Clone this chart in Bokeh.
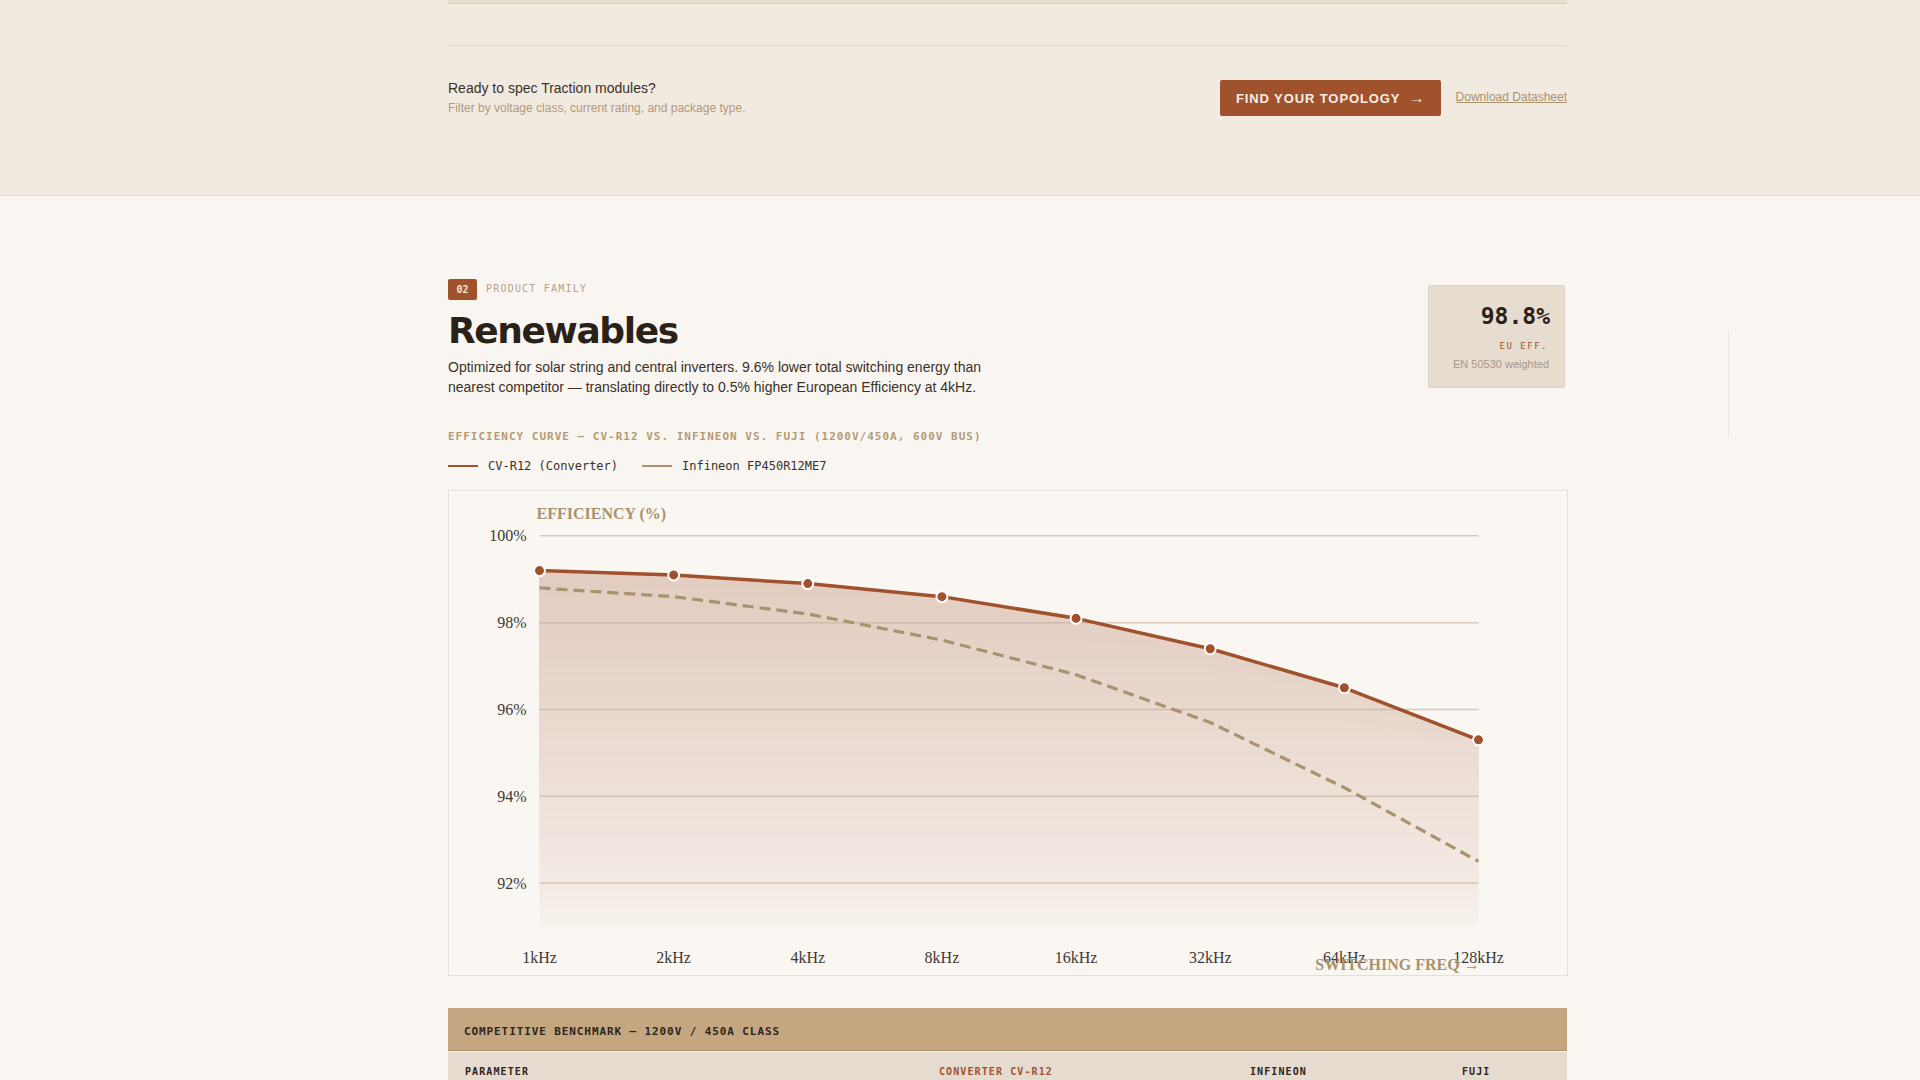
import numpy as np
from bokeh.plotting import figure
from bokeh.layouts import column, row
from bokeh.models import Div, Range1d, FixedTicker, Label
from bokeh.embed import file_html
from bokeh.resources import INLINE

# ---------------- data ----------------
freq_labels = ["1kHz", "2kHz", "4kHz", "8kHz", "16kHz", "32kHz", "64kHz", "128kHz"]
cv_r12 = [99.2, 99.1, 98.9, 98.6, 98.1, 97.4, 96.5, 95.3]
infineon = [98.8, 98.6, 98.2, 97.6, 96.8, 95.7, 94.2, 92.5]
y_ticks = [92, 94, 96, 98, 100]
y_tick_labels = ["92%", "94%", "96%", "98%", "100%"]
baseline = 91

# ---------------- styles ----------------
SIENNA = "#a0522d"
TAN = "#a8926f"
BG = "#f9f6f1"
CHART_BG = "#faf7f3"
BORDER = "#e6dfd5"
SANS = "'Liberation Sans', Arial, sans-serif"
MONO = "'DejaVu Sans Mono', monospace"
HEAD = "'DejaVu Sans', sans-serif"
# gradient stops of the area fill (opacity of sienna over the chart background)
grad_stop_y = [91, 92, 94, 96, 98, 99.2]
grad_stop_a = [0.03, 0.075, 0.135, 0.19, 0.235, 0.26]

def hex_to_rgb(h):
    return tuple(int(h[i:i + 2], 16) for i in (1, 3, 5))

def mix(a):
    c1, c0 = hex_to_rgb(SIENNA), hex_to_rgb(CHART_BG)
    return "#%02x%02x%02x" % tuple(int(round(c0[i] * (1 - a) + c1[i] * a)) for i in range(3))

xs = list(range(len(freq_labels)))
cv_arr = np.array(cv_r12)

p = figure(width=1118, height=484, output_backend="svg", toolbar_location=None,
           x_range=Range1d(-0.0522, 7.0522), y_range=Range1d(91, 100.861),
           min_border_left=83, min_border_right=82, min_border_top=7, min_border_bottom=45,
           background_fill_color=CHART_BG, border_fill_color=CHART_BG,
           outline_line_color=None, margin=0)
p.xgrid.visible = False
p.ygrid.visible = False

# gradient area under CV-R12: nested opaque layers, each from its level up to the line
top_val = cv_arr.max()
n = 40
step = (top_val - baseline) / n
for k in range(n):
    level = baseline + step * k
    a = float(np.interp(level + step / 2, grad_stop_y, grad_stop_a))
    p.varea(x=xs, y1=np.minimum(level, cv_arr), y2=cv_arr, fill_color=mix(a), fill_alpha=1.0)

# grid lines (only across the category span)
p.segment(x0=[xs[0]] * len(y_ticks), x1=[xs[-1]] * len(y_ticks), y0=y_ticks, y1=y_ticks,
          line_color="#b9a896", line_alpha=0.55, line_width=1.5)

# series
p.line(xs, infineon, line_color=TAN, line_width=3.2, line_dash="11 6")
p.line(xs, cv_r12, line_color=SIENNA, line_width=3.5)
p.scatter(xs, cv_r12, size=11, fill_color=SIENNA, line_color="#ffffff", line_width=2)

# axes
for ax in (p.xaxis[0], p.yaxis[0]):
    ax.axis_line_color = None
    ax.major_tick_line_color = None
    ax.minor_tick_line_color = None
    ax.major_tick_out = 0
    ax.major_tick_in = 0
    ax.minor_tick_out = 0
    ax.major_label_text_font = "Liberation Serif"
    ax.major_label_text_font_size = "16px"
    ax.major_label_text_color = "#3d3935"
xax = p.xaxis[0]
xax.ticker = FixedTicker(ticks=xs)
xax.major_label_overrides = {i: lab for i, lab in zip(xs, freq_labels)}
xax.major_label_standoff = 22
# axis title, right-aligned near the last category (padded with no-break spaces)
xax.axis_label = "SWITCHING FREQ \u2192" + "\u00a0" * 44
xax.axis_label_text_font = "Liberation Serif"
xax.axis_label_text_font_style = "bold"
xax.axis_label_text_font_size = "16px"
xax.axis_label_text_color = TAN
xax.axis_label_standoff = -13
xax.axis_label_align = "end"
yax = p.yaxis[0]
yax.ticker = FixedTicker(ticks=y_ticks)
yax.major_label_overrides = {t: lab for t, lab in zip(y_ticks, y_tick_labels)}
yax.major_label_standoff = 6

p.add_layout(Label(x=xs[0], y=y_ticks[-1], x_offset=-3, y_offset=22, text="EFFICIENCY (%)",
                   text_font="Liberation Serif", text_font_style="bold", text_font_size="16px",
                   text_color=TAN, text_align="left", text_baseline="middle"))

# ---------------- page parts ----------------
def box(l, t, w, h, bg, extra=""):
    return f'<div style="position:absolute;left:{l}px;top:{t}px;width:{w}px;height:{h}px;background:{bg};{extra}"></div>'

def txt(l, t, s, css):
    return f'<div style="position:absolute;left:{l}px;top:{t}px;white-space:nowrap;{css}">{s}</div>'

top_html = (
    f'<div style="position:relative;width:1920px;height:491px;background:{BG};overflow:hidden;font-family:{SANS};">'
    + box(0, 0, 1920, 196, "#f1eae0", "border-bottom:1px solid #e4dbce;")
    + box(448, 0, 1119, 4, "#e7ded2", "border-bottom:1px solid #d6cbbd;")
    + box(448, 45, 1119, 1, "#e2d9cc")
    + txt(448, 80, "Ready to spec Traction modules?", "font-size:14px;line-height:16px;color:#3b3029;")
    + txt(448, 101, "Filter by voltage class, current rating, and package type.", "font-size:12px;line-height:14px;color:#b09a7c;")
    + f'<div style="position:absolute;left:1220px;top:80px;width:221px;height:36px;background:{SIENNA};border-radius:2px;'
      f'color:#f7ede3;font-weight:bold;font-size:13px;letter-spacing:0.9px;line-height:36px;text-align:center;white-space:nowrap;">'
      'FIND YOUR TOPOLOGY &nbsp;<b style="font-size:15px;">\u2192</b></div>'
    + '<div style="position:absolute;right:353px;top:90px;font-size:12px;line-height:14px;color:#a8916f;text-decoration:underline;white-space:nowrap;">Download Datasheet</div>'
    # section header
    + f'<div style="position:absolute;left:448px;top:279px;width:29px;height:21px;background:{SIENNA};border-radius:2px;color:#f3e2d3;'
      f'font-family:{MONO};font-weight:bold;font-size:10px;line-height:21px;text-align:center;">02</div>'
    + txt(486, 282, "PRODUCT FAMILY", f"font-family:{MONO};font-size:10px;line-height:14px;letter-spacing:1.2px;color:#b5a28a;")
    + txt(448, 313, "Renewables", f"font-family:{HEAD};font-weight:bold;font-size:36px;line-height:36px;letter-spacing:-1.4px;color:#2a2119;")
    + txt(448, 358, "Optimized for solar string and central inverters. 9.6% lower total switching energy than<br>"
          "nearest competitor \u2014 translating directly to 0.5% higher European Efficiency at 4kHz.",
          "font-size:14px;line-height:19.6px;color:#3b3029;")
    # KPI box
    + '<div style="position:absolute;left:1428px;top:285px;width:137px;height:103px;background:#e6dccf;border:1px solid #dcd1c3;border-radius:2px;">'
    + f'<div style="position:absolute;right:14px;top:17px;font-family:{MONO};font-weight:bold;font-size:23px;line-height:26px;color:#2a211a;white-space:nowrap;">98.8%</div>'
    + f'<div style="position:absolute;right:16px;top:54px;font-family:{MONO};font-size:9px;line-height:12px;letter-spacing:1.5px;color:{SIENNA};white-space:nowrap;">EU EFF.</div>'
    + '<div style="position:absolute;right:15px;top:72px;font-size:11px;line-height:13px;color:#a8998a;white-space:nowrap;">EN 50530 weighted</div>'
    + '</div>'
    + box(1728, 333, 1, 102, "#ebe5dd")
    # chart heading + legend
    + txt(448, 430, "EFFICIENCY CURVE \u2014 CV-R12 VS. INFINEON VS. FUJI (1200V/450A, 600V BUS)",
          f"font-family:{MONO};font-weight:bold;font-size:11px;line-height:14px;letter-spacing:1px;color:#b59b74;")
    + box(448, 465, 30, 2, SIENNA)
    + txt(488, 459, "CV-R12 (Converter)", f"font-family:{MONO};font-size:12px;line-height:15px;color:#3b3029;")
    + box(642, 465, 30, 2, TAN)
    + txt(682, 459, "Infineon FP450R12ME7", f"font-family:{MONO};font-size:12px;line-height:15px;color:#3b3029;")
    # chart box top border
    + box(448, 490, 1120, 1, BORDER)
    + '</div>'
)

left_html = (f'<div style="position:relative;width:449px;height:484px;background:{BG};">'
             + box(448, 0, 1, 484, BORDER) + '</div>')
right_html = (f'<div style="position:relative;width:353px;height:484px;background:{BG};">'
              + box(0, 0, 1, 484, BORDER) + '</div>')

hdr_css = f"font-family:{MONO};font-weight:bold;font-size:10px;line-height:14px;letter-spacing:1.1px;"
bottom_html = (
    f'<div style="position:relative;width:1920px;height:105px;background:{BG};overflow:hidden;">'
    + box(448, 0, 1120, 1, BORDER)
    + box(448, 33, 1119, 43, "#c4a780", "border-bottom:1px solid #ad926c;")
    + txt(464, 50, "COMPETITIVE BENCHMARK \u2014 1200V / 450A CLASS",
          f"font-family:{MONO};font-weight:bold;font-size:11px;line-height:14px;letter-spacing:0.9px;color:#2e241c;")
    + box(448, 77, 1119, 28, "#e5dbce")
    + txt(465, 90, "PARAMETER", hdr_css + "color:#2e241c;")
    + txt(939, 90, "CONVERTER CV-R12", hdr_css + f"color:{SIENNA};")
    + txt(1250, 90, "INFINEON", hdr_css + "color:#2e241c;")
    + txt(1462, 90, "FUJI", hdr_css + "color:#2e241c;")
    + '</div>'
)

top_div = Div(text=top_html, width=1920, height=491, margin=0)
left_div = Div(text=left_html, width=449, height=484, margin=0)
right_div = Div(text=right_html, width=353, height=484, margin=0)
bottom_div = Div(text=bottom_html, width=1920, height=105, margin=0)

root = column(top_div, row(left_div, p, right_div, spacing=0, margin=0), bottom_div,
              spacing=0, margin=0)

open("out.html", "w").write(file_html(root, INLINE))
